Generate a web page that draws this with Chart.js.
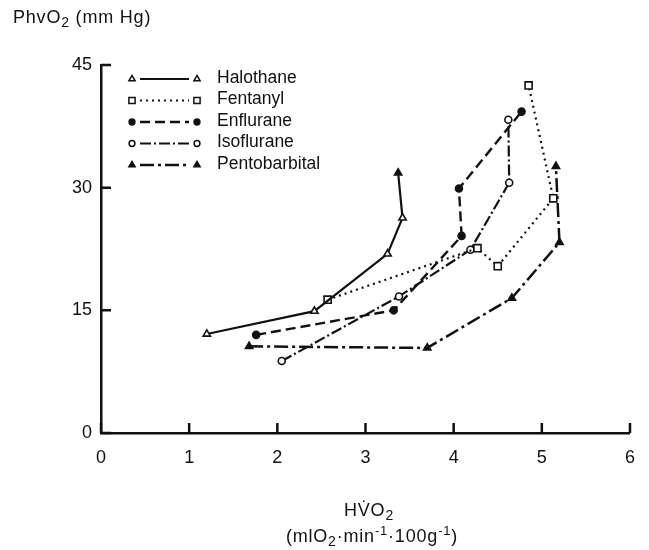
<!DOCTYPE html>
<html>
<head>
<meta charset="utf-8">
<script src="https://cdn.jsdelivr.net/npm/chart.js@4.4.1/dist/chart.umd.min.js"></script>
<style>
  body { margin: 0; background: #fff; }
  #wrap { position: relative; width: 649px; height: 550px; font-family: "Liberation Sans", Arial, sans-serif; color: #111; }
  canvas { position: absolute; left: 0; top: 0; }
  .lbl { position: absolute; font-size: 18px; line-height: 18px; letter-spacing: 0.8px; white-space: nowrap; }
  .lbl sub { font-size: 14px; vertical-align: -4px; line-height: 0; }
  .lbl sup { font-size: 13px; vertical-align: 7px; line-height: 0; }
</style>
</head>
<body>
<div id="wrap">
  <canvas id="chart" width="649" height="550"></canvas>
  <div class="lbl" style="left:13px; top:8px;">PhvO<sub>2</sub> (mm Hg)</div>
  <div class="lbl" style="left:269px; width:200px; top:501px; text-align:center;">HV&#775;O<sub>2</sub></div>
  <div class="lbl" style="left:222px; width:300px; top:527px; text-align:center;">(mlO<sub>2</sub>&middot;min<sup>-1</sup>&middot;100g<sup>-1</sup>)</div>
</div>
<script>
const xTicks = [0, 1, 2, 3, 4, 5, 6];
const yTicks = [0, 15, 30, 45];

const labels = ['Halothane', 'Fentanyl', 'Enflurane', 'Isoflurane', 'Pentobarbital'];

const halothaneX = [1.20, 2.42, 3.25, 3.42, 3.37];
const halothaneY = [12.1, 14.9, 21.9, 26.3, 31.8];

const fentanylX = [2.57, 4.27, 4.50, 5.13, 4.85];
const fentanylY = [16.3, 22.6, 20.4, 28.7, 42.5];

const enfluraneX = [1.76, 3.32, 4.09, 4.06, 4.77];
const enfluraneY = [12.0, 15.0, 24.1, 29.9, 39.3];

const isofluraneX = [2.05, 3.38, 4.19, 4.63, 4.62];
const isofluraneY = [8.8, 16.7, 22.4, 30.6, 38.3];

const pentoX = [1.68, 3.70, 4.66, 5.20, 5.16];
const pentoY = [10.6, 10.4, 16.5, 23.3, 32.6];

const ink = '#111';
const fontFamily = '"Liberation Sans", Arial, sans-serif';

// look of each series (line dash, marker)
const looks = [
  { dash: [], width: 2.2, style: 'triangle', r: 4.2, fill: '#fff' },
  { dash: [2, 4], width: 2.2, style: 'rect', r: 5, fill: '#fff' },
  { dash: [10, 5], width: 2.4, style: 'circle', r: 3.5, fill: ink },
  { dash: [11, 3, 2, 3], width: 2.2, style: 'circle', r: 3.5, fill: '#fff' },
  { dash: [14, 4, 3, 4], width: 2.5, style: 'triangle', r: 4.2, fill: ink }
];

const xs = [halothaneX, fentanylX, enfluraneX, isofluraneX, pentoX];
const ys = [halothaneY, fentanylY, enfluraneY, isofluraneY, pentoY];

const datasets = labels.map((name, i) => {
  const lk = looks[i];
  const fills = xs[i].map(() => lk.fill);
  if (i === 0) fills[fills.length - 1] = ink; // top halothane marker looks solid
  return {
    label: name,
    data: xs[i].map((x, j) => ({ x: x, y: ys[i][j] })),
    borderColor: ink,
    borderWidth: lk.width,
    borderDash: lk.dash,
    tension: 0,
    pointStyle: lk.style,
    pointRadius: lk.r,
    pointBorderWidth: 1.6,
    pointBorderColor: ink,
    pointBackgroundColor: fills,
    clip: false
  };
});

function marker(ctx, style, x, y, r, fill) {
  ctx.beginPath();
  if (style === 'triangle') {
    ctx.moveTo(x, y - r);
    ctx.lineTo(x + r * 0.866, y + r * 0.5);
    ctx.lineTo(x - r * 0.866, y + r * 0.5);
    ctx.closePath();
  } else if (style === 'rect') {
    const s = r * 0.7071;
    ctx.rect(x - s, y - s, 2 * s, 2 * s);
  } else {
    ctx.arc(x, y, r, 0, Math.PI * 2);
  }
  ctx.fillStyle = fill;
  ctx.fill();
  ctx.stroke();
}

// inward tick marks on both axes
const axisTicks = {
  id: 'axisTicks',
  afterDraw(chart) {
    const { ctx, chartArea: a } = chart;
    const sx = chart.scales.x, sy = chart.scales.y;
    ctx.save();
    ctx.strokeStyle = ink;
    ctx.lineWidth = 2.5;
    ctx.beginPath();
    yTicks.forEach(v => {
      const py = sy.getPixelForValue(v);
      ctx.moveTo(a.left, py);
      ctx.lineTo(a.left + 10, py);
    });
    xTicks.forEach(v => {
      const px = sx.getPixelForValue(v);
      ctx.moveTo(px, a.bottom);
      ctx.lineTo(px, a.bottom - 10);
    });
    ctx.stroke();
    ctx.restore();
  }
};

// key: marker - line - marker - name
const keyBox = {
  id: 'keyBox',
  afterDraw(chart) {
    const ctx = chart.ctx;
    ctx.save();
    ctx.font = '17.5px ' + fontFamily;
    ctx.textBaseline = 'middle';
    labels.forEach((name, i) => {
      const lk = looks[i];
      const y = 79 + i * 21.5;
      ctx.strokeStyle = ink;
      ctx.lineWidth = lk.width;
      ctx.setLineDash(lk.dash);
      ctx.beginPath();
      ctx.moveTo(140, y);
      ctx.lineTo(189, y);
      ctx.stroke();
      ctx.setLineDash([]);
      ctx.lineWidth = 1.5;
      marker(ctx, lk.style, 132, y, lk.r - 0.6, lk.fill);
      marker(ctx, lk.style, 197, y, lk.r - 0.6, lk.fill);
      ctx.fillStyle = ink;
      ctx.fillText(name, 217, y - 1);
    });
    ctx.restore();
  }
};

new Chart(document.getElementById('chart'), {
  type: 'line',
  data: { datasets: datasets },
  plugins: [axisTicks, keyBox],
  options: {
    responsive: false,
    animation: false,
    layout: { padding: { left: 0, right: 17, top: 65, bottom: 0 } },
    plugins: { legend: { display: false }, tooltip: { enabled: false } },
    scales: {
      x: {
        type: 'linear',
        min: 0,
        max: 6,
        afterBuildTicks: s => { s.ticks = xTicks.map(v => ({ value: v })); },
        afterFit: s => { s.height = 117; },
        grid: { display: false, drawTicks: false },
        border: { display: true, color: ink, width: 2.5 },
        ticks: { color: ink, padding: 14, font: { size: 18, family: fontFamily } }
      },
      y: {
        type: 'linear',
        min: 0,
        max: 45,
        afterBuildTicks: s => { s.ticks = yTicks.map(v => ({ value: v })); },
        afterFit: s => { s.width = 101; },
        grid: { display: false, drawTicks: false },
        border: { display: true, color: ink, width: 2.5 },
        ticks: { color: ink, padding: 9, font: { size: 18, family: fontFamily } }
      }
    }
  }
});
</script>
</body>
</html>
